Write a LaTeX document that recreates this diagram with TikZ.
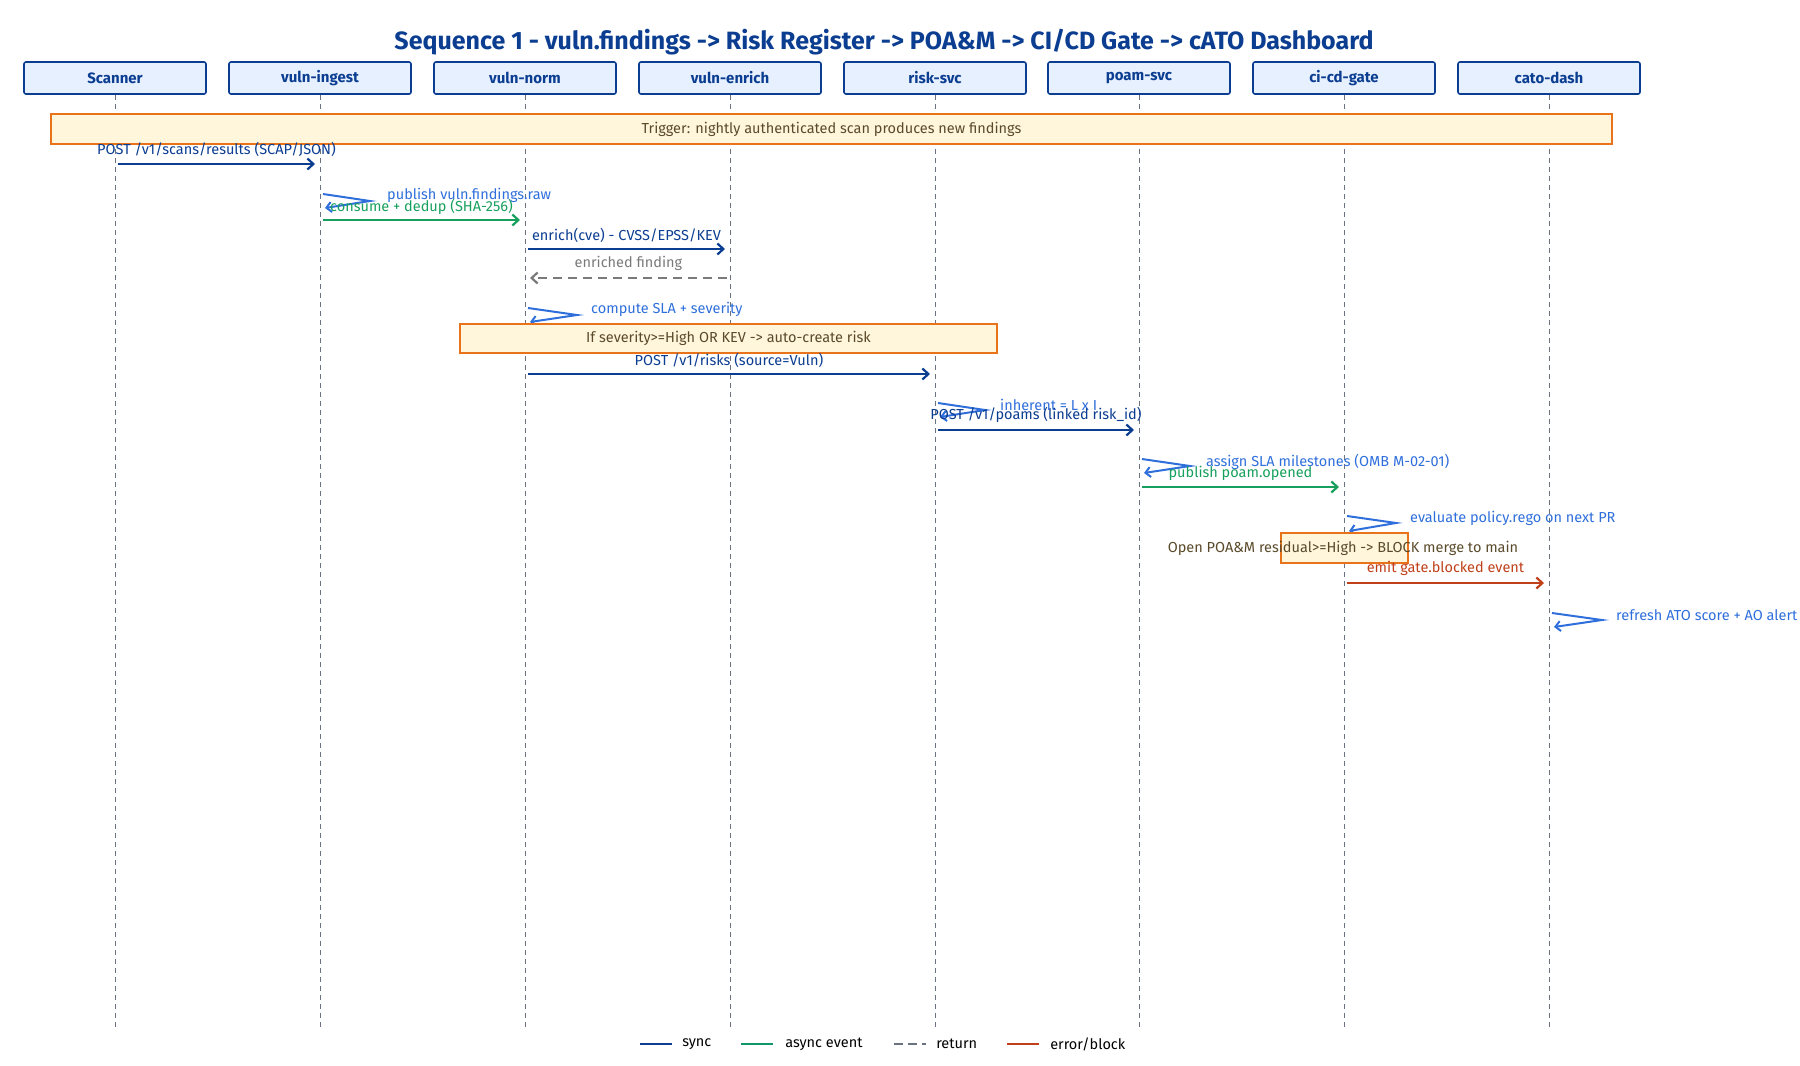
\documentclass[tikz,border=0pt]{standalone}
\usepackage{fontspec}
\setmainfont{Fira Sans}
\usetikzlibrary{arrows.meta}
\definecolor{syncc}{HTML}{0B3D91}
\definecolor{asyncc}{HTML}{17A05D}
\definecolor{retc}{HTML}{7A7A7A}
\definecolor{errc}{HTML}{C0401A}
\definecolor{selfc}{HTML}{2F6FDB}
\definecolor{notef}{HTML}{FFF6DC}
\definecolor{noted}{HTML}{E8731A}
\definecolor{headf}{HTML}{E6F0FF}
\definecolor{lifec}{HTML}{6B7280}
\definecolor{notet}{HTML}{5A4A2A}
\begin{document}
\begin{tikzpicture}[x=1pt,y=-1pt,
  head/.style={draw=syncc,fill=headf,line width=1.6pt,rounded corners=2pt,minimum width=182pt,minimum height=32pt,inner sep=0pt,font=\fontsize{15}{15}\selectfont\bfseries,text=syncc},
  life/.style={draw=lifec,line width=1pt,dash pattern=on 5pt off 4pt},
  msg/.style={line width=2.2pt,-{Straight Barb[length=6pt,width=11pt]}},
  self/.style={draw=selfc,line width=2pt,-{Straight Barb[length=5pt,width=10pt]}},
  lbl/.style={font=\fontsize{14.5}{14.5}\selectfont,inner sep=0pt},
  note/.style={draw=noted,fill=notef,line width=1.4pt,inner sep=0pt,font=\fontsize{14.5}{14.5}\selectfont,text=notet},
  leg/.style={line width=2.6pt}]
\useasboundingbox (0,0) rectangle (1800,1066);
\node[font=\fontsize{25}{25}\selectfont\bfseries,text=syncc] (title) at (884,42) {Sequence 1 - vuln.findings -> Risk Register -> POA\&M -> CI/CD Gate -> cATO Dashboard};
\foreach \n/\t/\x in {sc/Scanner/115,ing/vuln-ingest/320,nrm/vuln-norm/525,enr/vuln-enrich/730,rsk/risk-svc/935,poa/poam-svc/1139,gat/ci-cd-gate/1344,das/cato-dash/1549}{
  \node[head] (\n) at (\x,78) {\t};
  \coordinate (\n e) at (\x,1030);
  \draw[life] (\n.south) -- (\n e);
}
\node[note,minimum width=1561pt,minimum height=30pt] (trig) at (831.5,129) {Trigger: nightly authenticated scan produces new findings};
\coordinate (a1) at (118,164); \coordinate (b1) at (315,164);
\draw[msg,syncc] (a1) -- (b1) node[lbl,text=syncc,midway,yshift=15pt] (l1) {POST /v1/scans/results (SCAP/JSON)};
\coordinate (s1a) at (323,194); \coordinate (s1b) at (370,201); \coordinate (s1c) at (325,208);
\draw[self] (s1a) -- (s1b) -- (s1c);
\node[lbl,text=selfc,anchor=west] (ls1) at (387,195) {publish vuln.findings.raw};
\coordinate (a2) at (323,220); \coordinate (b2) at (520,220);
\draw[msg,asyncc] (a2) -- (b2) node[lbl,text=asyncc,midway,yshift=13pt] (l2) {consume + dedup (SHA-256)};
\coordinate (a3) at (528,249); \coordinate (b3) at (725,249);
\draw[msg,syncc] (a3) -- (b3) node[lbl,text=syncc,midway,yshift=14pt] (l3) {enrich(cve) - CVSS/EPSS/KEV};
\coordinate (a4) at (727,278); \coordinate (b4) at (530,278);
\draw[msg,retc,dash pattern=on 9pt off 6pt] (a4) -- (b4) node[lbl,text=retc,midway,yshift=15pt] (l4) {enriched finding};
\coordinate (s2a) at (528,308); \coordinate (s2b) at (577,315); \coordinate (s2c) at (530,322);
\draw[self] (s2a) -- (s2b) -- (s2c);
\node[lbl,text=selfc,anchor=west] (ls2) at (591,309) {compute SLA + severity};
\node[note,minimum width=537pt,minimum height=29pt] (n1) at (728.5,338.5) {If severity>=High OR KEV -> auto-create risk};
\coordinate (a5) at (528,374); \coordinate (b5) at (930,374);
\draw[msg,syncc] (a5) -- (b5) node[lbl,text=syncc,midway,yshift=14pt] (l5) {POST /v1/risks (source=Vuln)};
\coordinate (s3a) at (938,403); \coordinate (s3b) at (985,410); \coordinate (s3c) at (940,417);
\draw[self] (s3a) -- (s3b) -- (s3c);
\node[lbl,text=selfc,anchor=west] (ls3) at (1000,405) {inherent = L x I};
\coordinate (a6) at (938,430); \coordinate (b6) at (1134,430);
\draw[msg,syncc] (a6) -- (b6) node[lbl,text=syncc,midway,yshift=15pt] (l6) {POST /v1/poams (linked risk\_id)};
\coordinate (s4a) at (1142,459); \coordinate (s4b) at (1190,466); \coordinate (s4c) at (1144,473);
\draw[self] (s4a) -- (s4b) -- (s4c);
\node[lbl,text=selfc,anchor=west] (ls4) at (1206,462) {assign SLA milestones (OMB M-02-01)};
\coordinate (a7) at (1142,487); \coordinate (b7) at (1339,487);
\draw[msg,asyncc] (a7) -- (b7) node[lbl,text=asyncc,midway,yshift=14pt] (l7) {publish poam.opened};
\coordinate (s5a) at (1347,516); \coordinate (s5b) at (1396,523); \coordinate (s5c) at (1349,531);
\draw[self] (s5a) -- (s5b) -- (s5c);
\node[lbl,text=selfc,anchor=west] (ls5) at (1410,518) {evaluate policy.rego on next PR};
\node[note,minimum width=127pt,minimum height=30pt] (n2) at (1344.5,548) {};
\node[lbl,text=notet] (n2t) at (1343,548) {Open POA\&M residual>=High -> BLOCK merge to main};
\coordinate (a8) at (1347,583); \coordinate (b8) at (1544,583);
\draw[msg,errc] (a8) -- (b8) node[lbl,text=errc,midway,yshift=15pt] (l8) {emit gate.blocked event};
\coordinate (s6a) at (1552,613); \coordinate (s6b) at (1602,620); \coordinate (s6c) at (1554,627);
\draw[self] (s6a) -- (s6b) -- (s6c);
\node[lbl,text=selfc,anchor=west] (ls6) at (1616,615) {refresh ATO score + AO alert};
\coordinate (g1a) at (640,1044); \coordinate (g1b) at (672,1044);
\draw[leg,syncc] (g1a) -- (g1b) node[lbl,text=black,anchor=west,xshift=9pt] (gt1) {sync};
\coordinate (g2a) at (741,1044); \coordinate (g2b) at (773,1044);
\draw[leg,asyncc!70!teal] (g2a) -- (g2b) node[lbl,text=black,anchor=west,xshift=11pt] (gt2) {async event};
\coordinate (g3a) at (894,1044); \coordinate (g3b) at (926,1044);
\draw[leg,lifec,dash pattern=on 9pt off 5pt] (g3a) -- (g3b) node[lbl,text=black,anchor=west,xshift=9pt] (gt3) {return};
\coordinate (g4a) at (1007,1044); \coordinate (g4b) at (1039,1044);
\draw[leg,errc] (g4a) -- (g4b) node[lbl,text=black,anchor=west,xshift=10pt] (gt4) {error/block};
\end{tikzpicture}
\end{document}
